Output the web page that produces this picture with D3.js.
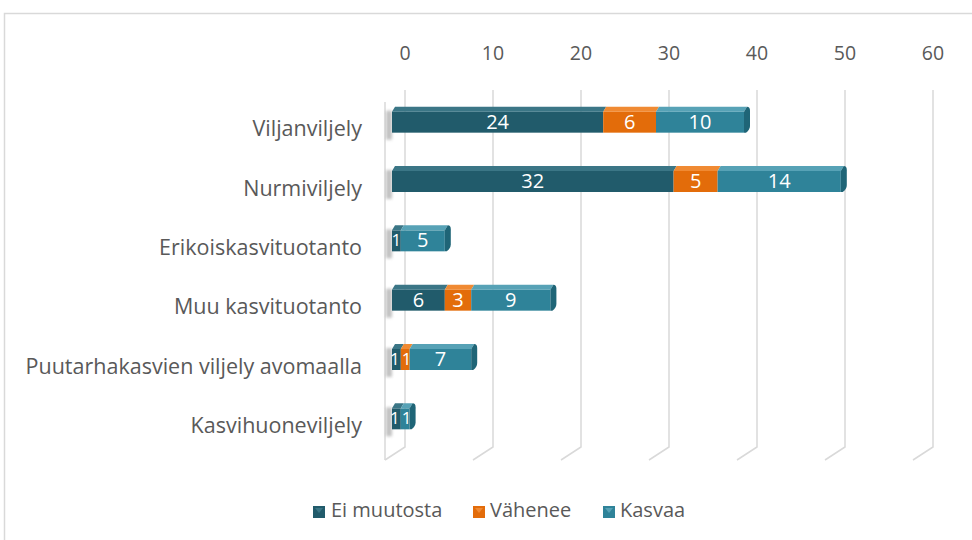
<!DOCTYPE html>
<html>
<head>
<meta charset="utf-8">
<script src="https://cdn.jsdelivr.net/npm/d3@7"></script>
<style>
  body { margin: 0; background: #fff; }
  svg { display: block; }
  text { font-family: "Open Sans", "Noto Sans", sans-serif; }
</style>
</head>
<body>
<div id="chart"></div>
<script>
// chart data
const categories = ["Viljanviljely", "Nurmiviljely", "Erikoiskasvituotanto", "Muu kasvituotanto",
  "Puutarhakasvien viljely avomaalla", "Kasvihuoneviljely"];
const seriesNames = ["Ei muutosta", "Vähenee", "Kasvaa"];
const eiMuutosta = [24, 32, 1, 6, 1, 1];
const vahenee = [6, 5, 0, 3, 1, 0];
const kasvaa = [10, 14, 5, 9, 7, 1];
const ticks = [0, 10, 20, 30, 40, 50, 60];

const colors = ["#215b6b", "#e36c0a", "#2f8399"];
const topColors = ["#3b7686", "#f08a33", "#57a2b6"];
const endColors = ["#17434f", "#b85506", "#1f6577"];

const width = 972, height = 540;
const svg = d3.select("#chart").append("svg")
  .attr("width", width).attr("height", height);

// outer frame
svg.append("rect").attr("x", 4.5).attr("y", 13.5).attr("width", 980).attr("height", 540)
  .attr("fill", "none").attr("stroke", "#d9d9d9").attr("stroke-width", 1.5);

// back wall scale and front (bar) scale
const x = d3.scaleLinear().domain([0, 60]).range([405, 933]);
const depthX = -13;
const y = d3.scaleBand().domain(categories).range([92, 448]);

const gridTop = 90, floorBack = 447, floorDx = -20, floorDy = 13;

// gridlines with floor segments
const grid = svg.append("g");
ticks.forEach(t => {
  grid.append("path")
    .attr("d", `M${x(t)},${gridTop}V${floorBack}l${floorDx},${floorDy}`)
    .attr("fill", "none").attr("stroke", "#d9d9d9").attr("stroke-width", 1.5);
});
// left side wall front edge
grid.append("path")
  .attr("d", `M${x(0) + floorDx},${gridTop + 12}V${floorBack + floorDy}`)
  .attr("fill", "none").attr("stroke", "#d9d9d9").attr("stroke-width", 1.5);

// tick labels
svg.append("g").selectAll("text").data(ticks).join("text")
  .attr("x", d => x(d)).attr("y", 55)
  .attr("text-anchor", "middle").attr("dominant-baseline", "middle")
  .attr("font-size", 19.5).attr("fill", "#595959")
  .text(d => d);

// shadow filter
const defs = svg.append("defs");
defs.append("filter").attr("id", "blur").attr("x", "-50%").attr("width", "200%")
  .append("feGaussianBlur").attr("stdDeviation", 1.6);

// category labels
svg.append("g").selectAll("text").data(categories).join("text")
  .attr("x", 362).attr("y", d => y(d) + y.bandwidth() / 2 + 9)
  .attr("text-anchor", "end").attr("dominant-baseline", "middle")
  .attr("font-size", 21.5).attr("fill", "#595959")
  .text(d => d);

// stacked bars
const rows = categories.map((c, i) => {
  const vals = [eiMuutosta[i], vahenee[i], kasvaa[i]];
  let acc = 0;
  const segs = vals.map((v, s) => {
    const seg = { s: s, v: v, x0: acc, x1: acc + v };
    acc += v;
    return seg;
  });
  return { cat: c, segs: segs, total: acc };
});

const xf = v => x(v) + depthX;
const topH = 5, frontH = 21;

rows.forEach(r => {
  const cy = y(r.cat) + y.bandwidth() / 2;
  const yTop = cy - 15, yFront = yTop + topH;
  const g = svg.append("g");

  // shadow on side wall
  g.append("rect").attr("x", xf(0) - 6).attr("y", yTop + 4).attr("width", 6).attr("height", frontH + 8)
    .attr("fill", "#9a9a9a").attr("opacity", 0.6).attr("filter", "url(#blur)");

  const segs = r.segs.filter(s => s.v > 0);
  segs.forEach((s, k) => {
    const a = xf(s.x0), b = xf(s.x1);
    // front face
    g.append("rect").attr("x", a).attr("y", yFront).attr("width", b - a).attr("height", frontH)
      .attr("fill", colors[s.s]);
    // top face
    g.append("path")
      .attr("d", `M${a},${yFront}L${a + 3},${yTop}L${b + 3},${yTop}L${b},${yFront}Z`)
      .attr("fill", topColors[s.s]);
  });
  // right end cap
  const last = segs[segs.length - 1];
  const e = xf(last.x1);
  g.append("path")
    .attr("d", `M${e},${yFront}L${e + 3},${yTop}Q${e + 6},${yTop} ${e + 6},${yTop + 4}L${e + 6},${yFront + frontH - 7}Q${e + 6},${yFront + frontH - 3} ${e + 2},${yFront + frontH}L${e},${yFront + frontH}Z`)
    .attr("fill", endColors[last.s]);

  // data labels (narrow neighbours get a smaller font and are pushed apart a bit)
  const narrow = s => s && (xf(s.x1) - xf(s.x0)) < 12;
  segs.forEach((s, k) => {
    let dx = 0;
    if (narrow(s) && narrow(segs[k + 1])) dx -= 1.5;
    if (narrow(s) && narrow(segs[k - 1])) dx += 1.5;
    g.append("text")
      .attr("x", (xf(s.x0) + xf(s.x1)) / 2 + dx).attr("y", yFront + frontH / 2 + 1)
      .attr("text-anchor", "middle").attr("dominant-baseline", "middle")
      .attr("font-size", narrow(s) ? 17 : 20).attr("fill", "#fff")
      .text(s.v);
  });
});

// legend
const legendItems = [
  { name: seriesNames[0], sx: 313, tx: 331 },
  { name: seriesNames[1], sx: 473, tx: 490 },
  { name: seriesNames[2], sx: 603, tx: 620 }
];
const lg = svg.append("g");
legendItems.forEach((d, i) => {
  lg.append("rect").attr("x", d.sx).attr("y", 506).attr("width", 12).attr("height", 12)
    .attr("fill", colors[i]);
  lg.append("path").attr("d", `M${d.sx + 2},${508}L${d.sx + 10},${508}L${d.sx + 6},${513}Z`)
    .attr("fill", topColors[i]);
  lg.append("text").attr("x", d.tx).attr("y", 512)
    .attr("dominant-baseline", "middle").attr("font-size", 20).attr("fill", "#595959")
    .text(d.name);
});
</script>
</body>
</html>
